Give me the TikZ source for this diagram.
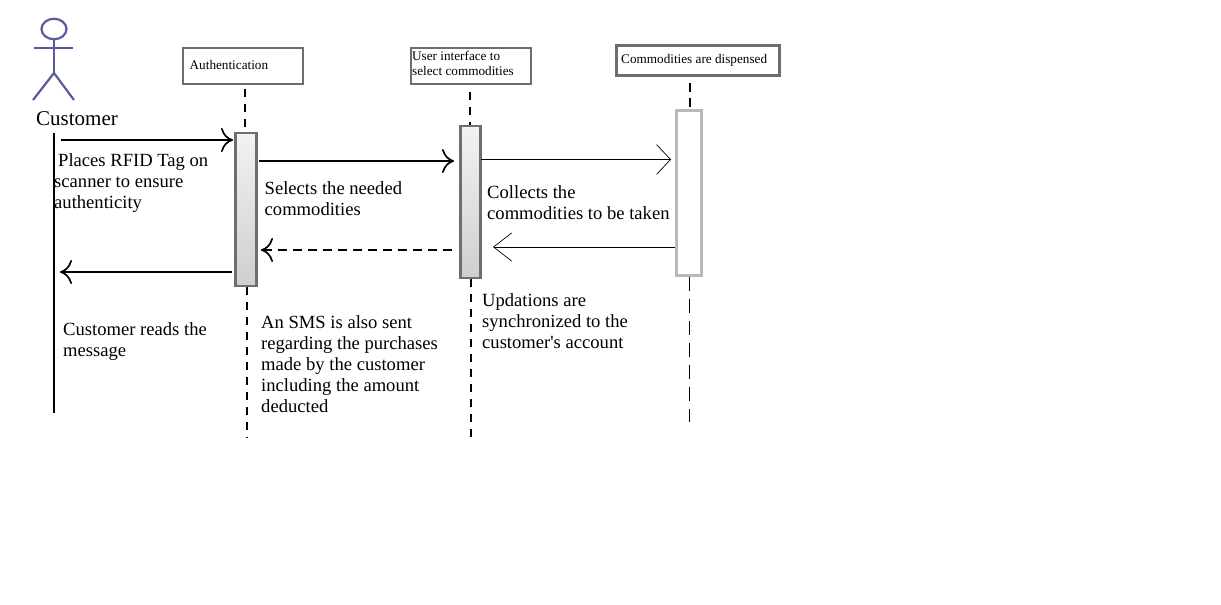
\documentclass[tikz,border=0pt]{standalone}
\usepackage{fontspec}
\setmainfont{Liberation Serif}
\newfontfamily\plainserif{Liberation Serif}
\usetikzlibrary{arrows.meta,calc,shapes.geometric}
\definecolor{actorc}{HTML}{5A5A9E}
\definecolor{boxc}{HTML}{6E6E6E}
\tikzset{
  x=1pt,y=-1pt,
  actorline/.style={draw=actorc,line width=2.2pt},
  headbox/.style={draw=boxc,line width=2.2pt,fill=white,rectangle,inner sep=0pt,anchor=north west},
  smalltext/.style={anchor=base west,inner sep=0pt,font=\fontsize{13.2}{15}\selectfont},
  barbox/.style={rectangle,draw=boxc,line width=2.8pt,top color=gray!10,bottom color=gray!38,inner sep=0pt,minimum width=20pt},
  note/.style={anchor=base west,inner sep=0pt,align=left,font=\fontsize{18.6}{21}\selectfont},
  life/.style={draw=black,line width=1.3pt,dash pattern=on 8pt off 7pt},
  heavymsg/.style={draw=black,line width=1.5pt,-{Computer Modern Rightarrow[length=12pt,width=24pt,line width=1.7pt]}},
  lightmsg/.style={draw=black,line width=1pt,-{Straight Barb[length=14pt,width=30pt,line width=.7pt]}},
}
\begin{document}
\begin{tikzpicture}
\useasboundingbox (0,0) rectangle (1221,605);
% actor
\node[draw=actorc,line width=2.2pt,ellipse,minimum width=25pt,minimum height=20.5pt,inner sep=0pt] (head) at (54,29) {};
\coordinate (hip) at (54,73);
\coordinate (armL) at (34,48);
\coordinate (armR) at (73,48);
\coordinate (legL) at (33,100);
\coordinate (legR) at (74,100);
\draw[actorline] (head.south) -- (hip);
\draw[actorline] (armL) -- (armR);
\draw[actorline] (legL) -- (hip) -- (legR);
\node[anchor=base west,inner sep=0pt,font=\fontsize{21}{22}\selectfont] (customer) at (36,125) {Customer};
% head boxes
\node[headbox,minimum width=120pt,minimum height=36pt] (authbox) at (182,46.5) {};
\node[smalltext] (authtext) at (189.5,69) {Authentication};
\node[headbox,minimum width=120pt,minimum height=36pt] (userbox) at (409.5,46.5) {};
\node[smalltext] (usertext) at (412,60) {User interface to};
\node[smalltext] (usertextb) at (412,75) {select commodities};
\node[headbox,line width=3pt,minimum width=163pt,minimum height=30pt] (combox) at (615,44) {};
\node[smalltext] (comtext) at (621,63.5) {Commodities are dispensed};
% bars
\node[barbox,minimum width=21pt,minimum height=153pt] (barA) at (246,209.5) {};
\node[barbox,minimum width=20pt,minimum height=152pt] (barU) at (470.5,202) {};
\node[rectangle,draw=gray!55,line width=3pt,fill=white,inner sep=0pt,minimum width=25pt,minimum height=165pt] (barC) at (689,192.5) {};
% lifelines
\coordinate (custtop) at (54,133);
\coordinate (custbot) at (54,413);
\draw[draw=black,line width=1.3pt] (custtop) -- (custbot);
\coordinate (a1) at (245,89);
\coordinate (a2) at (247,438);
\coordinate (u1) at (470,92);
\coordinate (u2) at (471,438);
\coordinate (c1) at (690,83);
\coordinate (c2) at (689,422);
\draw[life] (a1) -- (barA.north -| a1);
\draw[life] (barA.south -| a2) -- (a2);
\draw[life] (u1) -- (barU.north -| u1);
\draw[life] (barU.south -| u2) -- (u2);
\draw[life,line width=2.4pt,dash pattern=on 9pt off 6pt] (c1) -- (barC.north -| c1);
\draw[life,line width=.9pt,dash pattern=on 14pt off 8pt] (barC.south -| c2) -- (c2);
% messages
\coordinate (m1s) at (61,140); \coordinate (m1e) at (233,140);
\coordinate (m2s) at (259,161); \coordinate (m2e) at (454,161);
\coordinate (m3s) at (481,159.5); \coordinate (m3e) at (671,159.5);
\coordinate (m4s) at (675,247); \coordinate (m4e) at (493,247);
\coordinate (m5s) at (452,250); \coordinate (m5e) at (261,250);
\coordinate (m6s) at (232,272); \coordinate (m6e) at (60,272);
\draw[heavymsg] (m1s) -- (m1e);
\draw[heavymsg] (m2s) -- (m2e);
\draw[lightmsg] (m3s) -- (m3e);
\draw[lightmsg,-{Straight Barb[length=18pt,width=28pt,line width=.7pt]}] (m4s) -- (m4e);
\draw[heavymsg,dash pattern=on 9pt off 6pt] (m5s) -- (m5e);
\draw[heavymsg] (m6s) -- (m6e);
% notes
\node[note] (n1) at (58,166) {Places RFID Tag on};
\node[note] (n1b) at (54,187) {scanner to ensure};
\node[note] (n1c) at (54,208) {authenticity};
\node[note] (n2) at (264.5,194) {Selects the needed};
\node[note] (n2b) at (264.5,215.5) {commodities};
\node[note] (n3) at (487,198.5) {Collects the};
\node[note] (n3b) at (487,219.5) {commodities to be taken};
\node[note] (n4) at (482,306.5) {Updations are};
\node[note] (n4b) at (482,327.5) {synchronized to the};
\node[note] (n4c) at (482,348.5) {{\plainserif customer's account}};
\node[note] (n5) at (261,328.5) {An SMS is also sent};
\node[note] (n5b) at (261,349.5) {regarding the purchases};
\node[note] (n5c) at (261,370.5) {made by the customer};
\node[note] (n5d) at (261,391.5) {including the amount};
\node[note] (n5e) at (261,412.5) {deducted};
\node[note] (n6) at (63,335.5) {Customer reads the};
\node[note] (n6b) at (63,356.5) {message};
\end{tikzpicture}
\end{document}
